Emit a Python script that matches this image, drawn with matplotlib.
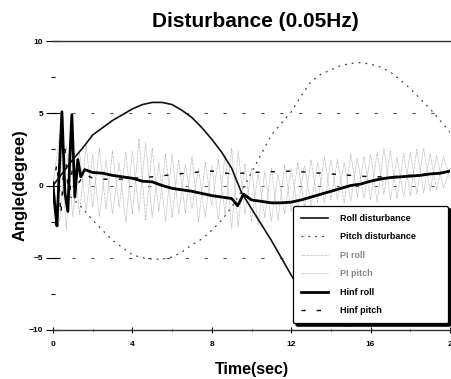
import matplotlib
matplotlib.use("Agg")
import matplotlib.pyplot as plt
from matplotlib.ticker import MultipleLocator

plt.rcParams['font.family'] = ['Liberation Sans', 'DejaVu Sans']
plt.rcParams['font.weight'] = 'bold'

# ---------------- data ----------------
roll_dist_t = [0, 0.5, 1, 1.5, 2, 2.5, 3, 3.5, 4, 4.5, 5, 5.5, 6, 6.5, 7, 7.5, 8, 8.5, 9,
               9.5, 10, 10.5, 11, 11.5, 12, 12.5, 13, 13.5, 14, 14.5, 15, 15.5, 16, 16.5,
               17, 17.5, 18, 18.5, 19, 19.5, 20]
roll_dist_v = [0, 0.9, 1.8, 2.6, 3.5, 4.0, 4.5, 4.9, 5.3, 5.6, 5.75, 5.75, 5.6, 5.2, 4.7,
               4.0, 3.2, 2.3, 1.2, -0.5, -1.6, -2.7, -3.8, -5.0, -6.2, -7.3, -8.2, -8.9,
               -9.3, -9.6, -9.7, -9.6, -9.3, -8.9, -8.3, -7.5, -6.6, -5.7, -4.7, -3.6, -2.5]

pitch_dist_t = [0, 1, 1.5, 2, 2.5, 3, 3.5, 4, 4.5, 5, 5.5, 6, 6.5, 7, 7.5, 8, 8.5, 9, 9.5,
                10, 10.5, 11, 11.5, 12, 12.5, 13, 13.5, 14, 14.5, 15, 15.5, 16, 16.5, 17,
                17.5, 18, 18.5, 19, 19.5, 20]
pitch_dist_v = [0, -0.9, -1.6, -2.4, -3.1, -3.8, -4.3, -4.8, -5.0, -5.1, -5.1, -4.95, -4.6,
                -4.1, -3.7, -3.1, -2.4, -1.5, -0.4, 0.9, 2.2, 3.5, 4.3, 5.1, 6.2, 7.2, 7.7,
                8.0, 8.3, 8.45, 8.5, 8.4, 8.2, 7.85, 7.3, 6.7, 6.0, 5.3, 4.5, 3.7]

osc_t = [0, 0.33, 0.67, 1, 1.33, 1.67, 2, 2.33, 2.67, 3, 3.33, 3.67, 4, 4.33, 4.67, 5,
         5.33, 5.67, 6, 6.33, 6.67, 7, 7.33, 7.67, 8, 8.33, 8.67, 9, 9.33, 9.67, 10,
         10.33, 10.67, 11, 11.33, 11.67, 12, 12.33, 12.67, 13, 13.33, 13.67, 14, 14.33,
         14.67, 15, 15.33, 15.67, 16, 16.33, 16.67, 17, 17.33, 17.67, 18, 18.33, 18.67,
         19, 19.33, 19.67, 20]
pi_roll_v = [0, 3.5, -3.0, 3.0, -2.0, 2.8, -1.5, 2.6, -1.6, 2.4, -1.5, 2.3, -2.0, 3.2, -2.4,
             2.6, -1.8, 2.2, -2.2, 1.8, -1.9, 2.0, -2.5, 1.6, -1.4, 1.8, -2.0, 2.6, -2.8,
             1.5, -2.5, 0.8, -2.2, 1.2, -2.4, 1.4, -1.8, 1.6, -1.5, 1.8, -1.2, 2.0, -1.0,
             1.8, -1.2, 2.2, -0.8, 2.0, -1.0, 2.3, -0.6, 2.4, -0.9, 2.2, -0.7, 2.5, -0.5,
             2.2, -0.3, 2.0, 0.5]
pi_pitch_v = [0, -2.5, 2.8, -2.2, 2.4, -1.8, 2.2, -2.2, 1.8, -2.0, 1.6, -2.6, 2.4, -1.8,
              3.0, -2.2, 1.6, -2.5, 2.2, -2.0, 1.5, -1.6, 1.2, -2.2, 1.4, -2.4, 2.2, -3.0,
              2.4, -2.0, 1.2, -2.8, 1.0, -2.5, 0.8, -2.0, 1.2, -1.6, 1.4, -1.4, 1.6, -1.2,
              1.8, -1.0, 1.6, -1.1, 1.9, -0.9, 2.2, -1.2, 2.6, -1.0, 2.0, -0.8, 2.3, -0.6,
              2.6, -0.4, 2.1, -0.2, 1.2]

hinf_roll_t = [0, 0.1, 0.2, 0.3, 0.45, 0.6, 0.75, 0.85, 0.95, 1.1, 1.25, 1.4, 1.6, 2.0, 2.5,
               3.0, 3.5, 4.0, 4.5, 5.0, 5.5, 6.0, 6.5, 7.0, 7.5, 8.0, 8.5, 9.0, 9.3, 9.6,
               10.0, 10.5, 11.0, 11.5, 12.0, 12.5, 13.0, 13.5, 14.0, 14.5, 15.0, 15.5, 16.0,
               16.5, 17.0, 17.5, 18.0, 18.5, 19.0, 19.5, 20.0]
hinf_roll_v = [0, -1.5, -2.8, 0.5, 5.1, -0.5, -1.8, 2.0, 4.9, -0.8, 1.8, 0.6, 1.1, 0.9, 0.85,
               0.7, 0.6, 0.5, 0.3, 0.25, 0.0, -0.2, -0.3, -0.4, -0.55, -0.7, -0.8, -0.9, -1.4,
               -0.6, -1.0, -1.1, -1.2, -1.2, -1.15, -1.0, -0.8, -0.6, -0.4, -0.2, 0.0, 0.1,
               0.3, 0.45, 0.55, 0.6, 0.65, 0.7, 0.8, 0.85, 1.0]

hinf_pitch_t = [0, 0.2, 0.4, 0.6, 0.8, 1.0, 1.3, 1.6, 2, 3, 4, 5, 6, 7, 8, 9, 10, 11, 12,
                13, 14, 15, 16, 17, 18, 19, 20]
hinf_pitch_v = [0, 1.5, -2.0, 2.5, -1.0, 1.5, 0.2, 0.8, 0.5, 0.4, 0.5, 0.6, 0.75, 0.9, 1.0,
                0.8, 0.9, 0.95, 1.0, 0.9, 0.8, 0.7, 0.6, 0.6, 0.7, 0.8, 0.9]

x_ticks = [0, 4, 8, 12, 16, 20]
x_ticklabels = ['0', '4', '8', '12', '16', '2']
y_ticks = [-10, -5, 0, 5, 10]

# ---------------- figure ----------------
fig = plt.figure(figsize=(4.51, 3.79), dpi=100)
ax = fig.add_axes([53 / 451, 1 - 330 / 379, 397 / 451, 289 / 379])

for yv in (-5, 0, 5):
    ax.axhline(yv, color='#555555', lw=0.8, ls=(0, (3, 14)), zorder=1)

ax.plot(osc_t, pi_pitch_v, color='#cccccc', lw=0.5, label='PI pitch', zorder=2)
ax.plot(osc_t, pi_roll_v, color='#9a9a9a', lw=0.5, ls=(0, (1, 1)), label='PI roll', zorder=2)
ax.plot(roll_dist_t, roll_dist_v, color='#111111', lw=1.2, label='Roll disturbance', zorder=3)
ax.plot(pitch_dist_t, pitch_dist_v, color='#444444', lw=0.9, ls=(0, (1.5, 4)),
        label='Pitch disturbance', zorder=3)
ax.plot(hinf_roll_t, hinf_roll_v, color='black', lw=2.0, label='Hinf roll', zorder=4)
ax.plot(hinf_pitch_t, hinf_pitch_v, color='black', lw=1.0, ls=(0, (3, 8)),
        label='Hinf pitch', zorder=4)

ax.set_xlim(0, 20)
ax.set_ylim(-10, 10)
ax.set_xticks(x_ticks)
ax.set_xticklabels(x_ticklabels)
ax.set_yticks(y_ticks)
ax.yaxis.set_minor_locator(MultipleLocator(2.5))
ax.xaxis.set_minor_locator(MultipleLocator(2))

for s in ('left', 'right'):
    ax.spines[s].set_visible(False)
for s in ('top', 'bottom'):
    ax.spines[s].set_color('#333333')
    ax.spines[s].set_linewidth(1.0)

ax.tick_params(axis='y', which='major', direction='inout', length=10, width=0.8,
               labelsize=6, pad=2)
ax.tick_params(axis='y', which='minor', direction='inout', length=3, width=0.8)
ax.tick_params(axis='x', which='major', direction='inout', length=4, width=0.8,
               labelsize=6, pad=6)
ax.tick_params(axis='x', which='minor', direction='inout', length=2, width=0.6)
for lab in ax.get_xticklabels() + ax.get_yticklabels():
    lab.set_fontweight('bold')

ax.set_title('Disturbance (0.05Hz)', fontsize=15, fontweight='bold', pad=10, x=0.51)
ax.set_xlabel('Time(sec)', fontsize=11.5, fontweight='bold', labelpad=10)
ax.set_ylabel('Angle(degree)', fontsize=12, fontweight='bold', labelpad=1)

handles, labels = ax.get_legend_handles_labels()
order = ['Roll disturbance', 'Pitch disturbance', 'PI roll', 'PI pitch', 'Hinf roll', 'Hinf pitch']
hmap = dict(zip(labels, handles))
leg = ax.legend([hmap[k] for k in order], order, loc='upper left',
                bbox_to_anchor=(0.605, 0.0, 0.39, 0.43), mode='expand',
                prop={'size': 6.5, 'weight': 'bold'},
                frameon=True, fancybox=True, shadow={'color': 'black', 'alpha': 1.0},
                edgecolor='black', framealpha=1.0, labelspacing=1.05, handlelength=3.0,
                handletextpad=1.3, borderpad=0.9, borderaxespad=0.0)
leg.get_frame().set_linewidth(0.9)
leg.set_zorder(10)
for txt in leg.get_texts():
    if txt.get_text().startswith('PI'):
        txt.set_color('#888888')

fig.savefig('out.png', dpi=100)
